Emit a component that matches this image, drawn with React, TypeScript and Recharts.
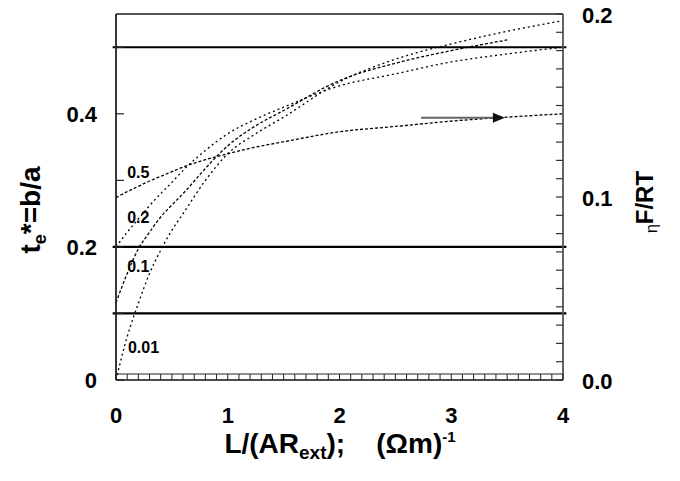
import React from 'react';
import { LineChart, Line, XAxis, YAxis, ReferenceLine, ReferenceDot, Label } from 'recharts';

// L/(AR_ext) sample points and t_e* curves (one per parameter label)
const xValues = [0, 0.1, 0.2, 0.3, 0.4, 0.5, 0.6, 0.8, 1.0, 1.25, 1.5, 2, 2.5, 3, 3.5, 4];
const curve001 = [0, 0.065, 0.115, 0.16, 0.195, 0.225, 0.25, 0.3, 0.34, 0.37, 0.395, 0.448, 0.482, 0.505, 0.524, 0.54];
const curve01 = [0.116, 0.16, 0.197, 0.222, 0.245, 0.263, 0.28, 0.318, 0.352, 0.382, 0.405, 0.45, 0.476, 0.495, 0.511, null];
const curve02 = [0.2, 0.222, 0.242, 0.262, 0.28, 0.297, 0.315, 0.345, 0.37, 0.392, 0.41, 0.442, 0.46, 0.478, 0.49, 0.5];
const curve05 = [0.274, 0.283, 0.291, 0.299, 0.306, 0.313, 0.32, 0.331, 0.34, 0.35, 0.358, 0.373, 0.381, 0.389, 0.395, 0.4];

const hLines = [0.1, 0.2, 0.5];

const curveLabels = [
  { text: '0.5', x: 0.1, y: 0.311 },
  { text: '0.2', x: 0.1, y: 0.244 },
  { text: '0.1', x: 0.1, y: 0.17 },
  { text: '0.01', x: 0.107, y: 0.048 },
];

const arrow = { x1: 2.73, x2: 3.48, y: 0.394 };

const xTicks = Array.from({ length: 41 }, (_, i) => i / 10);
const leftTicks = [0, 0.1, 0.2, 0.3, 0.4, 0.5];
const leftLabels: Record<string, string> = { '0': '0', '0.2': '0.2', '0.4': '0.4' };
const rightMax = 0.2;
const rightTicks = Array.from({ length: 21 }, (_, i) => i / 100);
const rightLabels: Record<string, string> = { '0': '0.0', '0.1': '0.1', '0.2': '0.2' };

const rows = xValues.map((x, i) => ({
  x,
  c001: curve001[i],
  c01: curve01[i],
  c02: curve02[i],
  c05: curve05[i],
}));

const FONT = '"Liberation Sans", Arial, sans-serif';
const PLOT_W = 447;

const XTick = (props: any) => {
  const { x, y, payload, index } = props;
  const v = payload.value;
  const major = Math.abs(v - Math.round(v)) < 1e-6;
  return (
    <g>
      <line x1={x} y1={y} x2={x} y2={y - 6} stroke="#222" strokeWidth={1} />
      {index === 0 && <line x1={x} y1={y - 6} x2={x + PLOT_W} y2={y - 6} stroke="#222" strokeWidth={1} />}
      {major && (
        <text x={x} y={y + 43} textAnchor="middle" fontFamily={FONT} fontWeight="bold" fontSize={22} fill="#000">
          {Math.round(v)}
        </text>
      )}
    </g>
  );
};

const LeftTick = (props: any) => {
  const { x, y, payload } = props;
  const key = String(Math.round(payload.value * 10) / 10);
  const label = leftLabels[key];
  return (
    <g>
      <line x1={x} y1={y} x2={x + 8} y2={y} stroke="#222" strokeWidth={1.2} />
      {label && (
        <text x={x - 19} y={y + 8} textAnchor="end" fontFamily={FONT} fontWeight="bold" fontSize={22} fill="#000">
          {label}
        </text>
      )}
    </g>
  );
};

const RightTick = (props: any) => {
  const { x, y, payload } = props;
  const key = String(Math.round(payload.value * 100) / 100);
  const label = rightLabels[key];
  return (
    <g>
      <line x1={x - 7} y1={y} x2={x} y2={y} stroke="#333" strokeWidth={1.2} />
      {label && (
        <text x={x + 19} y={y + 9} textAnchor="start" fontFamily={FONT} fontWeight="bold" fontSize={22} fill="#000">
          {label}
        </text>
      )}
    </g>
  );
};

const LeftTitle = () => (
  <text
    x={0}
    y={0}
    transform="translate(32 206) rotate(-90)"
    textAnchor="middle"
    fontFamily={FONT}
    fontWeight="bold"
    fontSize={28}
    fill="#000"
  >
    t<tspan fontSize={18} dy={6}>e</tspan>
    <tspan dy={-6}>*=b/a</tspan>
  </text>
);

const RightTitle = () => (
  <text
    x={0}
    y={0}
    transform="translate(645 198) rotate(-90)"
    textAnchor="middle"
    fontFamily={FONT}
    fontWeight="bold"
    fontSize={24}
    fill="#000"
  >
    <tspan fontSize={16} fontWeight="normal" dy={4}>η</tspan>
    <tspan dy={-4}>F/RT</tspan>
  </text>
);

const XTitle = () => (
  <text
    x={332}
    y={449}
    textAnchor="middle"
    fontFamily={FONT}
    fontWeight="bold"
    fontSize={28}
    fill="#000"
    style={{ whiteSpace: 'pre' }}
  >
    L/(AR<tspan fontSize={19} dy={6}>ext</tspan>
    <tspan dy={-6}>);    (Ωm)</tspan>
    <tspan fontSize={15} dy={-11}>-1</tspan>
  </text>
);

const CurveLabel = (text: string) => (p: any) => (
  <text x={p.cx} y={p.cy} dy={5} fontFamily={FONT} fontWeight="bold" fontSize={16} fill="#000">
    {text}
  </text>
);

const ArrowHead = (p: any) => (
  <polygon points={`${p.cx},${p.cy} ${p.cx - 12},${p.cy - 5} ${p.cx - 12},${p.cy + 5}`} fill="#111" />
);

export default function App() {
  return (
    <div style={{ position: 'relative', top: -4 }}>
      <LineChart width={672} height={477} data={rows} margin={{ top: 10, right: 0, bottom: 0, left: 0 }}>
        <XAxis
          dataKey="x"
          type="number"
          domain={[0, 4]}
          ticks={xTicks}
          interval={0}
          height={101}
          tickSize={0}
          tickMargin={0}
          tickLine={false}
          tick={<XTick />}
          axisLine={{ stroke: '#111', strokeWidth: 1.5 }}
        >
          <Label content={<XTitle />} />
        </XAxis>
        <YAxis
          yAxisId="left"
          type="number"
          domain={[0, 0.55]}
          ticks={leftTicks}
          interval={0}
          width={108}
          tickSize={0}
          tickMargin={0}
          tickLine={false}
          tick={<LeftTick />}
          axisLine={{ stroke: '#222', strokeWidth: 1.8 }}
        >
          <Label content={<LeftTitle />} />
        </YAxis>
        <YAxis
          yAxisId="right"
          orientation="right"
          type="number"
          domain={[0, rightMax]}
          allowDataOverflow
          ticks={rightTicks}
          interval={0}
          width={117}
          tickSize={0}
          tickMargin={0}
          tickLine={false}
          tick={<RightTick />}
          axisLine={{ stroke: '#555', strokeWidth: 1.8 }}
        >
          <Label content={<RightTitle />} />
        </YAxis>

        {/* invisible series so the right axis gets drawn */}
        <Line yAxisId="right" dataKey="c05" stroke="none" dot={false} legendType="none" isAnimationActive={false} />

        {/* top frame */}
        <ReferenceLine yAxisId="right" y={rightMax} stroke="#555" strokeWidth={2} />

        {hLines.map((v) => (
          <ReferenceLine
            key={v}
            yAxisId="left"
            segment={[{ x: -0.03, y: v }, { x: 4.03, y: v }]}
            ifOverflow="visible"
            stroke="#000"
            strokeWidth={2.2}
          />
        ))}

        <Line yAxisId="left" type="monotone" dataKey="c05" stroke="#000" strokeWidth={1.3} strokeDasharray="3 2" dot={false} isAnimationActive={false} />
        <Line yAxisId="left" type="monotone" dataKey="c02" stroke="#000" strokeWidth={1.3} strokeDasharray="2 3" dot={false} isAnimationActive={false} />
        <Line yAxisId="left" type="monotone" dataKey="c01" stroke="#000" strokeWidth={1.3} strokeDasharray="3 2" dot={false} isAnimationActive={false} />
        <Line yAxisId="left" type="monotone" dataKey="c001" stroke="#000" strokeWidth={1.3} strokeDasharray="2 3" dot={false} isAnimationActive={false} />

        <ReferenceLine
          yAxisId="left"
          segment={[{ x: arrow.x1, y: arrow.y }, { x: arrow.x2 - 0.08, y: arrow.y }]}
          stroke="#666"
          strokeWidth={2}
        />
        <ReferenceDot yAxisId="left" x={arrow.x2} y={arrow.y} r={0} shape={ArrowHead} />

        {curveLabels.map((c) => (
          <ReferenceDot key={c.text} yAxisId="left" x={c.x} y={c.y} r={0} shape={CurveLabel(c.text)} />
        ))}
      </LineChart>
    </div>
  );
}
